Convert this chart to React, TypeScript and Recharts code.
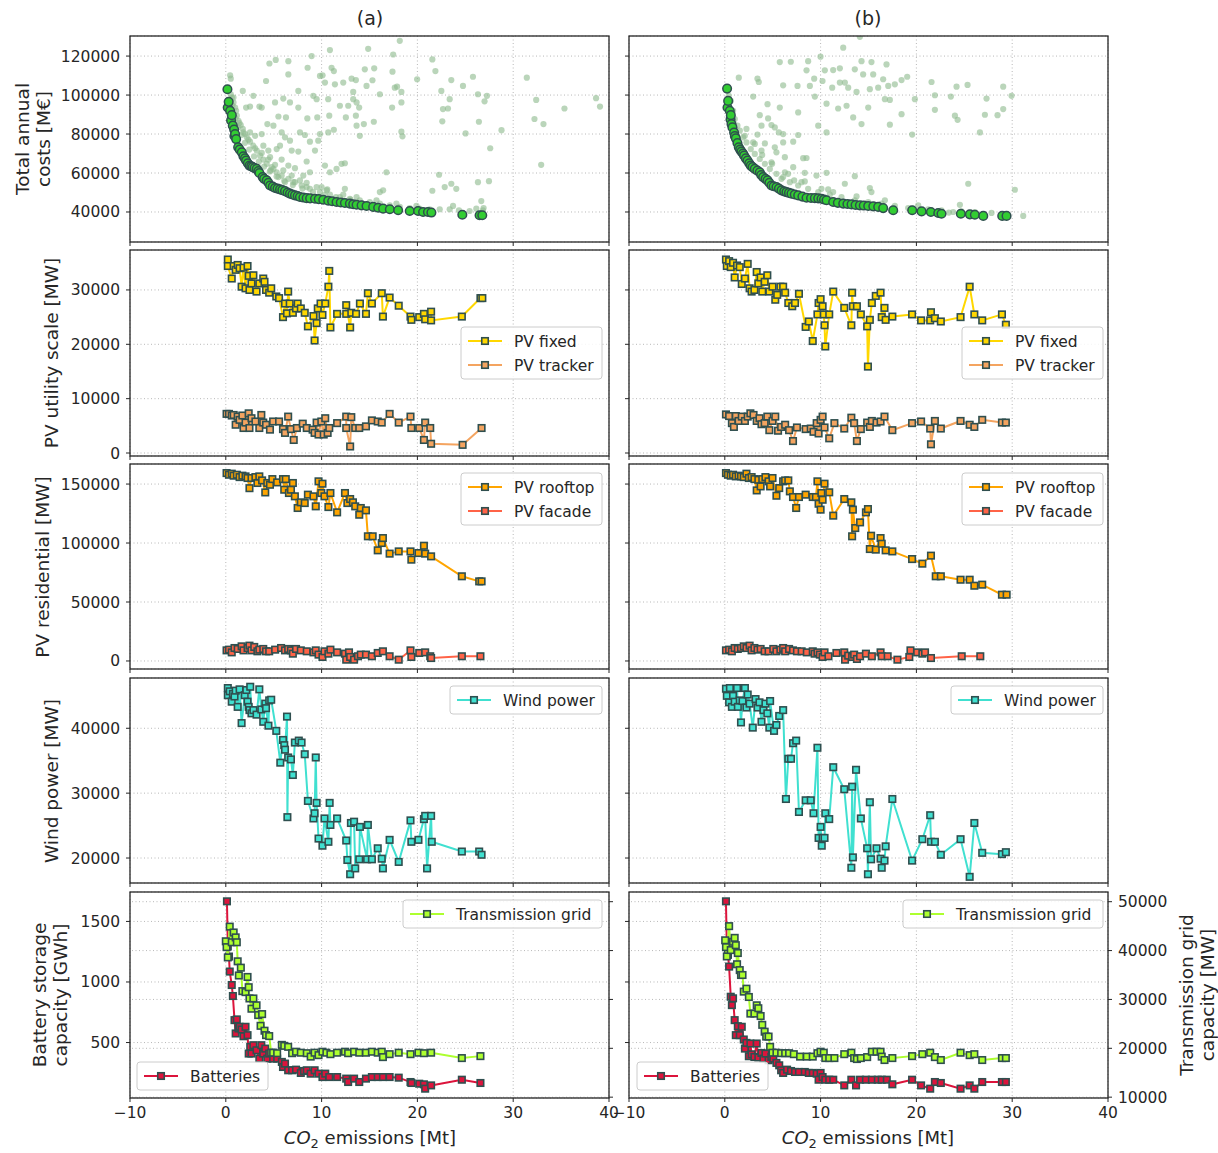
import React from 'react'
import { ScatterChart, Scatter, XAxis, YAxis, CartesianGrid, ReferenceLine } from 'recharts'

type P = [number, number]

// ---------- data ----------
const xTicks = [-10, 0, 10, 20, 30, 40]

// Row 1: total annual costs [M€]
const cloudA: P[] = [
  [0.45, 110100], [0.52, 108400], [18.16, 127800], [14.86, 123700], [17.47, 120800], [10.87, 123100], [8.96, 120000],
  [21.56, 118300], [5.21, 118000], [4.55, 116200], [6.53, 117400], [8.54, 114000], [11.04, 114000], [11.28, 112300],
  [14.51, 113200], [15.49, 113700], [17.4, 112000], [6.53, 110600], [9.83, 109800], [10.1, 110100], [13.13, 108400],
  [13.58, 107700], [15.31, 107600], [19.97, 108100], [21.88, 112300], [23.54, 107700], [25.8, 109400], [31.42, 108900],
  [4.2, 107200], [7.57, 102100], [10.35, 106400], [11.39, 105500], [12.26, 106400], [13.3, 101600], [14.69, 104700],
  [16.08, 100400], [17.64, 103800], [17.88, 104300], [18.33, 101600], [22.5, 102100], [24.76, 104700], [26.32, 100400],
  [27.26, 99600], [1.77, 102100], [2.88, 99600], [6.0, 98200], [5.14, 96200], [6.7, 96200], [9.13, 99600], [9.48, 97900],
  [10.69, 97900], [11.91, 94500], [12.78, 94500], [13.3, 97900], [13.65, 96200], [13.92, 93600], [17.36, 93600],
  [18.33, 96200], [23.37, 97900], [22.67, 92800], [23.19, 93100], [27.01, 96800], [32.4, 97500], [35.35, 93100],
  [38.65, 98400], [39.06, 94100], [2.12, 93600], [2.53, 94100], [3.51, 94100], [3.75, 93600], [5.49, 89000], [6.28, 88500],
  [7.57, 93600], [8.51, 88000], [9.55, 88500], [10.8, 89400], [12.53, 88500], [13.58, 89400], [14.41, 85100], [15.45, 86300],
  [13.65, 84300], [13.99, 79100], [22.6, 86500], [26.42, 86300], [32.22, 87700], [33.16, 85100], [4.34, 85100], [4.97, 84300],
  [5.83, 80800], [7.74, 80800], [8.26, 79500], [9.83, 80000], [10.69, 80800], [11.28, 82200], [18.33, 81200], [18.44, 78800],
  [25.03, 80300], [28.78, 82000], [2.53, 80800], [3.06, 79100], [3.75, 80000], [6.18, 78300], [6.7, 76600], [8.78, 76100],
  [9.65, 76600], [3.92, 74000], [4.44, 71500], [5.31, 72300], [5.66, 74000], [6.88, 71500], [7.57, 71000], [9.31, 71500],
  [27.6, 72700], [4.62, 68100], [5.83, 66900], [8.44, 65900], [10.35, 63800], [10.87, 60400], [11.56, 62100], [12.08, 64700],
  [12.43, 65000], [6.53, 63800], [7.22, 62500], [32.92, 64200], [4.69, 61300], [4.97, 62100], [8.09, 58700], [8.78, 60400],
  [16.77, 60400], [22.26, 59100], [23.54, 54500], [26.32, 55300], [27.47, 55800], [5.49, 57900], [6.18, 55300], [7.05, 55300],
  [7.74, 56200], [8.44, 52800], [10.0, 52800], [10.59, 51600], [12.43, 51900], [16.08, 50200], [16.42, 51100], [21.56, 50900],
  [22.85, 52800], [24.06, 51900], [26.67, 45600], [23.72, 43100], [26.84, 40900], [26.15, 41700],
  [0.52, 100400], [0.63, 98700], [0.8, 96200], [0.97, 93600], [1.15, 89400], [1.32, 86800], [1.56, 84600], [1.77, 82600],
  [2.01, 80000], [2.19, 78300], [2.53, 76100], [2.88, 74000], [3.23, 71500], [3.58, 68900], [3.92, 66900], [4.27, 64700],
  [4.79, 63000], [5.31, 60400], [5.83, 58700], [6.53, 57000], [7.22, 55300], [7.92, 53600], [8.78, 51900], [9.83, 50200],
  [10.87, 48900], [11.91, 47700], [12.95, 46800], [13.99, 46000], [15.03, 45100], [16.08, 44300], [17.12, 43400],
  [18.16, 42600], [19.2, 42000], [20.24, 41700], [21.28, 41400], [22.33, 41400], [23.37, 41400], [24.34, 40900],
  [25.45, 40500], [26.91, 42000], [0.8, 98700], [1.08, 91900], [1.42, 85600], [1.84, 80800], [2.36, 77100], [3.06, 72700],
  [3.75, 70300], [4.44, 66900], [5.14, 64200], [6.0, 61300], [6.88, 58700], [8.44, 55000], [9.48, 52800], [10.52, 51100],
  [12.26, 48900], [13.65, 47700], [15.73, 46000], [17.81, 44300], [19.9, 43100],
  [0.7, 94500], [1.0, 88000], [1.25, 83500], [1.6, 79500], [2.0, 75500], [2.45, 72000], [2.95, 68500], [3.45, 65800],
  [4.0, 63300], [4.6, 60800], [5.3, 58200], [6.1, 56000], [7.0, 53800], [8.0, 52000], [9.1, 50300], [10.3, 48800],
  [11.5, 47600], [13.0, 46300],
]
const frontA: P[] = [
  [0.17, 103000], [0.2, 93600], [0.3, 96500], [0.45, 91900], [0.55, 87000], [0.63, 89700], [0.73, 84300], [0.87, 82300],
  [0.9, 79000], [0.97, 80000], [1.08, 77400], [1.29, 73200], [1.45, 72000], [1.67, 70600], [1.84, 68600], [2.0, 67500],
  [2.12, 66400], [2.3, 65000], [2.47, 63800], [2.65, 63500], [2.81, 63000], [3.0, 62500], [3.23, 62100], [3.4, 61000],
  [3.51, 60000], [3.85, 57900], [4.0, 57000], [4.27, 56200], [4.45, 55000], [4.62, 53600], [4.9, 53000], [5.14, 52300],
  [5.4, 52000], [5.66, 51600], [5.9, 51200], [6.18, 50700], [6.45, 50000], [6.7, 49400], [6.95, 49000], [7.22, 48500],
  [7.5, 48200], [7.74, 47700], [8.1, 47400], [8.44, 47100], [8.8, 47000], [9.31, 46800], [9.7, 46600], [10.17, 46300],
  [10.69, 45800], [11.1, 45500], [11.56, 45100], [12.0, 44900], [12.43, 44600], [12.95, 44300], [13.3, 44000],
  [13.65, 43700], [14.17, 43400], [14.69, 43100], [15.38, 42600], [15.9, 42200], [16.42, 41700], [17.12, 41400],
  [17.99, 40900], [19.2, 40500], [20.07, 40500], [20.59, 40000], [21.1, 40000], [21.46, 39700], [24.69, 38600],
  [26.49, 38300], [26.77, 38300],
]
const cloudB: P[] = [
  [14.1, 129900], [12.36, 124300], [5.74, 116900], [6.89, 117100], [8.7, 117400], [9.99, 119700], [14.27, 117400],
  [15.31, 116900], [16.88, 115700], [8.53, 112700], [10.44, 112700], [11.31, 112800], [12.01, 113700], [13.57, 113200],
  [14.44, 110600], [15.49, 110600], [16.53, 108100], [18.45, 107700], [19.04, 109400], [1.46, 108900], [3.41, 108400],
  [3.55, 106700], [6.09, 105000], [7.59, 104700], [8.88, 104700], [9.33, 108400], [10.2, 107200], [11.21, 103800],
  [12.01, 106400], [12.53, 106400], [12.88, 103800], [13.75, 101600], [15.14, 103000], [16.01, 103800], [17.06, 104700],
  [17.75, 105500], [21.58, 106700], [24.19, 104300], [25.34, 105200], [29.06, 104300], [29.93, 99600], [2.96, 99200],
  [4.46, 95300], [5.74, 93600], [7.66, 91100], [9.4, 99200], [10.62, 95600], [11.83, 93100], [12.71, 94500], [13.4, 88500],
  [14.27, 85100], [14.97, 93600], [16.71, 97900], [17.23, 97500], [18.45, 90200], [19.84, 97900], [21.93, 99900],
  [21.93, 92400], [23.6, 99200], [24.02, 89400], [24.3, 87300], [27.15, 89900], [28.47, 89700], [29.06, 92800],
  [27.32, 98200], [26.63, 80800], [19.56, 79700], [17.23, 84800], [3.65, 89700], [4.52, 88000], [4.87, 84600],
  [3.83, 84300], [2.26, 82600], [3.41, 79700], [5.22, 83400], [5.64, 80800], [6.09, 80000], [7.66, 79500], [9.75, 84300],
  [10.62, 80800], [3.13, 74900], [4.18, 75200], [5.22, 73200], [6.09, 75700], [7.14, 76100], [3.9, 69300], [5.39, 70600],
  [6.27, 68100], [8.18, 67600], [8.53, 67700], [4.94, 64700], [7.14, 63000], [8.35, 60100], [6.61, 59600], [5.92, 57000],
  [7.24, 56200], [8.35, 55700], [9.57, 58700], [10.62, 60100], [13.57, 58400], [12.53, 54500], [15.14, 52300],
  [15.31, 50200], [10.79, 51600], [11.31, 50200], [13.75, 48000], [16.71, 46000], [25.41, 54500], [30.28, 51400],
  [31.15, 38000], [24.54, 43700], [20.19, 43400], [19.56, 41700], [23.84, 40000], [23.39, 39700],
  [0.42, 99600], [0.63, 97000], [0.87, 91900], [1.04, 87700], [1.32, 84300], [1.57, 81700], [1.91, 78300], [2.26, 75700],
  [2.71, 72300], [3.13, 69800], [3.65, 67200], [4.18, 64700], [4.7, 62100], [5.39, 59600], [6.09, 57900], [6.79, 55300],
  [7.66, 53600], [8.7, 51900], [9.75, 50200], [10.96, 48900], [12.18, 47700], [13.57, 46000], [14.97, 45100],
  [16.36, 44300], [17.75, 43100], [19.14, 42000], [21.23, 41400], [22.62, 40900], [24.71, 40300], [26.1, 40000],
  [27.84, 39500], [2.09, 79100], [2.96, 75700], [3.83, 71500], [4.87, 65500], [6.27, 60400], [8.0, 55300], [10.09, 51900],
]
const frontB: P[] = [
  [0.24, 103300], [0.28, 93600], [0.35, 97000], [0.52, 91900], [0.6, 87500], [0.63, 89700], [0.7, 85100], [0.8, 83400],
  [0.97, 80800], [1.05, 79000], [1.15, 77800], [1.32, 75400], [1.46, 73200], [1.6, 72000], [1.74, 71000], [1.9, 70000],
  [2.02, 68900], [2.2, 67500], [2.37, 66400], [2.55, 65000], [2.71, 63800], [2.9, 63000], [3.13, 62100], [3.4, 61200],
  [3.65, 60400], [3.8, 59000], [4.0, 57900], [4.25, 57000], [4.46, 56200], [4.65, 55000], [4.87, 53600], [5.1, 53200],
  [5.39, 52800], [5.65, 52000], [5.92, 51100], [6.2, 50600], [6.44, 50200], [6.7, 49800], [6.96, 49400], [7.3, 49000],
  [7.66, 48500], [8.1, 47900], [8.53, 47300], [9.0, 47200], [9.4, 47100], [9.75, 47000], [10.09, 46800], [10.35, 46400],
  [10.62, 46000], [11.31, 45100], [11.8, 44700], [12.36, 44300], [12.8, 44100], [13.23, 43900], [13.65, 43600],
  [14.1, 43400], [14.5, 43300], [14.97, 43100], [15.5, 42900], [16.01, 42600], [16.53, 42000], [17.58, 40900],
  [19.56, 40900], [20.54, 40300], [21.51, 40000], [22.28, 39500], [22.62, 39100], [24.64, 39100], [25.58, 38800],
  [26.1, 38600], [26.98, 38000], [28.96, 38000], [29.41, 38000],
]

// Row 2: PV utility scale [MW]
const fixedA: P[] = [
  [0.21, 35600], [0.21, 34400], [0.62, 32100], [0.82, 34400], [1.03, 33700], [1.24, 34600], [1.44, 34000], [1.65, 30600],
  [1.85, 34100], [2.06, 30300], [2.27, 34400], [2.39, 32600], [2.47, 30000], [2.68, 31200], [2.88, 32700], [3.21, 29700],
  [3.5, 31200], [3.91, 32100], [4.04, 31500], [4.2, 30000], [4.53, 29500], [4.74, 30300], [5.27, 28800], [5.56, 28500],
  [5.97, 25000], [6.18, 27500], [6.39, 25700], [6.51, 29700], [6.67, 27500], [7.0, 25800], [7.33, 26600], [7.5, 27500],
  [7.83, 26600], [8.24, 25800], [8.57, 23300], [9.15, 25200], [9.27, 20700], [9.48, 23900], [9.6, 26600], [9.89, 27500],
  [10.09, 25400], [10.38, 27500], [10.71, 30600], [10.8, 33500], [10.92, 23100], [11.62, 25600], [12.57, 25600],
  [12.57, 27200], [12.98, 23100], [13.1, 25800], [13.6, 25600], [14.0, 27500], [14.63, 25600], [14.83, 29400],
  [15.25, 27500], [16.28, 29400], [16.4, 25100], [17.1, 28600], [18.05, 27100], [19.28, 25100], [19.37, 24500],
  [20.19, 25000], [20.68, 25600], [20.81, 24600], [21.43, 26000], [21.43, 24400], [24.64, 25100], [26.58, 28500],
  [26.78, 28500],
]
const trackerA: P[] = [
  [0.08, 7200], [0.33, 7200], [0.62, 6900], [0.82, 7000], [1.03, 5200], [1.24, 6700], [1.44, 6100], [1.73, 6900],
  [1.85, 4600], [2.06, 5600], [2.39, 7300], [2.47, 4600], [2.68, 6400], [3.09, 5800], [3.5, 4600], [3.71, 7000],
  [3.91, 5600], [4.2, 5200], [4.61, 4300], [4.94, 5800], [5.56, 5800], [5.97, 4400], [6.18, 3700], [6.51, 6700],
  [6.8, 4400], [7.09, 2400], [7.42, 4600], [8.03, 5400], [8.45, 4600], [9.06, 4300], [9.27, 3700], [9.48, 5600],
  [9.68, 3400], [9.97, 5800], [10.22, 3400], [10.38, 6400], [10.63, 3700], [10.8, 4600], [11.62, 5500], [12.57, 6700],
  [12.57, 4600], [12.98, 1200], [13.1, 6600], [13.51, 4600], [13.93, 4600], [14.63, 4900], [15.25, 6000], [15.86, 5800],
  [16.28, 5600], [17.1, 7200], [18.05, 5600], [19.28, 6700], [19.37, 4600], [20.19, 4600], [20.68, 2400], [20.81, 5600],
  [21.34, 4600], [21.43, 1700], [24.72, 1500], [26.7, 4600],
]
const fixedB: P[] = [
  [0.12, 35600], [0.21, 34400], [0.45, 35300], [0.62, 34200], [0.86, 35000], [1.03, 32300], [1.28, 34500], [1.56, 34200],
  [1.77, 31100], [2.1, 32100], [2.39, 34800], [2.59, 30300], [2.8, 29700], [3.09, 30000], [3.33, 33300], [3.5, 31200],
  [3.74, 32300], [3.91, 29700], [4.16, 31500], [4.44, 32700], [4.65, 29700], [4.98, 30600], [5.27, 28200], [5.47, 29100],
  [5.8, 30600], [6.09, 30600], [6.3, 29500], [6.63, 27600], [7.04, 27000], [7.33, 27600], [7.74, 29300], [8.44, 23200],
  [8.77, 24200], [9.18, 20600], [9.67, 25500], [9.79, 27600], [10.0, 28300], [10.21, 27000], [10.33, 25500],
  [10.41, 23500], [10.49, 19600], [10.9, 25500], [11.32, 29700], [12.47, 26700], [13.21, 23500], [13.29, 29500],
  [13.37, 27000], [13.79, 27000], [14.2, 25500], [14.86, 23300], [14.94, 15900], [15.14, 24500], [15.35, 27600],
  [15.76, 28900], [16.26, 29500], [16.38, 25000], [16.67, 26700], [16.79, 24500], [17.49, 25100], [19.55, 25500],
  [20.49, 24400], [21.44, 24400], [21.52, 25900], [21.93, 24800], [22.55, 24200], [24.61, 25000], [25.56, 30600],
  [26.05, 25500], [26.87, 24400], [28.93, 25500], [29.34, 23600],
]
const trackerB: P[] = [
  [0.12, 7100], [0.45, 6800], [0.74, 5500], [0.95, 4800], [1.15, 6800], [1.44, 5900], [1.77, 6700], [2.1, 5900],
  [2.39, 6700], [2.67, 7300], [3.0, 7000], [3.33, 5900], [3.62, 6400], [3.83, 5300], [4.16, 5500], [4.44, 6700],
  [4.65, 4200], [4.98, 5900], [5.27, 6700], [5.56, 4100], [5.88, 4800], [6.3, 5200], [6.71, 4200], [7.12, 2200],
  [7.53, 4700], [8.44, 4400], [8.97, 4500], [9.26, 3900], [9.59, 5500], [9.79, 3600], [10.0, 6100], [10.21, 6700],
  [10.41, 4700], [10.9, 2700], [11.44, 5500], [12.47, 4500], [13.21, 6500], [13.5, 5500], [13.79, 2200], [14.2, 4400],
  [14.86, 5600], [15.14, 4800], [15.35, 5900], [15.84, 5600], [16.26, 5800], [16.67, 6700], [17.49, 4200], [19.55, 5500],
  [20.49, 5800], [21.44, 4500], [21.52, 1600], [21.93, 5900], [22.55, 4500], [24.61, 5900], [25.56, 5200], [26.05, 4800],
  [26.87, 6100], [28.93, 5600], [29.34, 5600],
]

// Row 3: PV residential [MW]
const roofA: P[] = [
  [0.08, 159300], [0.33, 157900], [0.62, 158800], [0.82, 157100], [1.15, 157900], [1.44, 155900], [1.73, 157100],
  [2.06, 156500], [2.27, 155100], [2.47, 146500], [2.68, 155100], [3.09, 155900], [3.3, 150900], [3.5, 156500],
  [3.79, 153100], [4.12, 142900], [4.33, 150900], [4.61, 149400], [4.86, 154200], [5.36, 151400], [5.97, 154200],
  [6.1, 145200], [6.26, 154200], [6.59, 142400], [6.8, 145200], [7.0, 150900], [7.21, 139600], [7.5, 129700],
  [7.83, 134500], [8.24, 133900], [8.57, 141000], [9.15, 139600], [9.39, 131100], [9.68, 152300], [9.97, 142400],
  [10.09, 150300], [10.3, 139600], [10.71, 130500], [10.92, 142400], [11.62, 126000], [12.44, 142400], [12.69, 133900],
  [12.98, 137300], [13.27, 134500], [13.51, 131100], [13.93, 124000], [14.09, 129700], [14.63, 127700], [14.83, 105700],
  [15.33, 105700], [15.86, 93800], [16.28, 100000], [16.4, 104200], [17.1, 91000], [18.05, 92900], [19.28, 92900],
  [19.37, 85900], [20.11, 91500], [20.68, 97700], [20.81, 91000], [21.43, 88700], [24.64, 71800], [26.45, 67500],
  [26.7, 67500],
]
const facadeA: P[] = [
  [0.08, 9000], [0.33, 9600], [0.62, 7300], [0.91, 11000], [1.24, 10200], [1.65, 12400], [1.85, 9000], [2.27, 11000],
  [2.47, 13000], [2.68, 9000], [2.97, 11900], [3.3, 8200], [3.5, 9600], [3.91, 10200], [4.2, 8200], [4.53, 8200],
  [5.15, 9600], [5.77, 11000], [6.18, 9000], [6.51, 10200], [6.8, 9000], [7.0, 6200], [7.33, 10200], [7.83, 9000],
  [8.45, 8200], [9.15, 7300], [9.39, 9000], [9.68, 5400], [10.09, 3400], [10.3, 8200], [10.71, 6200], [10.92, 9600],
  [11.62, 7300], [12.44, 6200], [12.57, 1100], [12.86, 7300], [12.98, 3400], [13.39, 1100], [13.8, 4000], [14.09, 5400],
  [14.63, 5400], [15.25, 4000], [15.86, 6800], [16.4, 8200], [17.1, 4000], [18.05, 1100], [19.28, 9000], [19.37, 3400],
  [20.19, 6800], [20.81, 7300], [21.34, 4000], [21.43, 2500], [24.64, 4000], [26.58, 4000],
]
const roofB: P[] = [
  [0.12, 159300], [0.33, 157900], [0.62, 157100], [0.86, 157900], [1.15, 156500], [1.44, 157100], [1.69, 156500],
  [1.98, 155900], [2.26, 158800], [2.51, 155100], [2.8, 155900], [3.09, 154200], [3.33, 144600], [3.5, 153600],
  [3.74, 148000], [3.91, 154200], [4.24, 155900], [4.57, 152300], [4.73, 148000], [4.98, 155100], [5.39, 140100],
  [5.68, 146600], [6.09, 152300], [6.3, 153100], [6.63, 153100], [6.79, 143800], [7.12, 139000], [7.45, 129700],
  [7.74, 139000], [8.44, 141000], [9.18, 139000], [9.51, 139000], [9.67, 152300], [9.79, 133300], [10.0, 128300],
  [10.08, 142400], [10.21, 136700], [10.41, 150300], [10.9, 143000], [11.32, 123200], [12.47, 137300], [13.21, 134500],
  [13.29, 105700], [13.37, 128300], [13.62, 112700], [14.12, 117500], [14.73, 126000], [14.94, 128800], [15.14, 94900],
  [15.27, 106200], [15.76, 94400], [16.26, 104200], [16.38, 99400], [16.79, 93800], [17.49, 92900], [19.55, 86400],
  [20.62, 82500], [21.52, 89300], [22.02, 71800], [22.55, 71800], [24.61, 68900], [25.56, 68900], [26.05, 63800],
  [26.87, 64700], [28.93, 56200], [29.42, 56200],
]
const facadeB: P[] = [
  [0.12, 9000], [0.45, 9600], [0.74, 8200], [1.03, 11000], [1.36, 10200], [1.69, 11000], [1.98, 12400], [2.26, 11000],
  [2.59, 13000], [2.8, 9000], [3.09, 11000], [3.42, 9600], [3.74, 10200], [4.16, 8200], [4.57, 8200], [5.06, 10200],
  [5.39, 8200], [5.8, 9600], [6.09, 11000], [6.3, 8200], [6.71, 10200], [7.12, 9000], [7.53, 8200], [8.02, 8200],
  [8.56, 7300], [9.18, 8200], [9.38, 6200], [9.67, 7300], [9.92, 5400], [10.21, 3400], [10.41, 7300], [10.82, 4000],
  [11.65, 6800], [12.47, 7300], [12.55, 1100], [12.88, 4500], [13.29, 3400], [13.5, 5400], [13.79, 1700], [14.12, 4000],
  [14.73, 6200], [15.35, 4000], [16.26, 7300], [16.38, 4000], [17.0, 4000], [18.02, 1100], [19.26, 3400], [19.38, 9000],
  [20.08, 7300], [20.62, 6200], [20.9, 7300], [21.52, 2500], [24.73, 4000], [26.67, 4000],
]

// Row 4: wind power [MW]
const windA: P[] = [
  [0.21, 46200], [0.21, 45100], [0.41, 45700], [0.62, 44100], [0.74, 45300], [0.91, 44900], [1.03, 45800], [1.24, 43300],
  [1.44, 46000], [1.65, 40800], [1.98, 45100], [2.14, 45900], [2.27, 44100], [2.39, 43300], [2.47, 42800], [2.55, 46400],
  [2.68, 42300], [2.88, 42800], [3.21, 42100], [3.5, 46000], [3.71, 42900], [3.91, 41000], [4.12, 43800], [4.2, 43100],
  [4.45, 40400], [4.53, 44300], [4.74, 44400], [5.27, 39600], [5.69, 34700], [5.97, 38200], [6.1, 37400], [6.18, 36700],
  [6.39, 41800], [6.43, 26300], [6.51, 35500], [6.8, 35200], [7.0, 32800], [7.21, 37800], [7.62, 38100], [7.91, 37800],
  [8.24, 36000], [8.57, 28800], [9.15, 26100], [9.27, 26900], [9.39, 35500], [9.48, 28500], [9.68, 23000], [10.09, 21900],
  [10.3, 26100], [10.71, 22500], [10.84, 28500], [10.92, 25100], [11.62, 26100], [12.57, 22700], [12.69, 19700],
  [12.98, 17500], [13.06, 25400], [13.39, 25600], [13.51, 18400], [13.93, 19800], [14.0, 24800], [14.75, 19800],
  [14.83, 25100], [15.25, 19800], [15.86, 21500], [16.28, 19900], [16.4, 18400], [17.1, 22800], [18.05, 19400],
  [19.28, 25800], [19.37, 22500], [20.11, 22800], [20.68, 26000], [20.81, 26500], [21.01, 18400], [21.43, 26500],
  [21.5, 22500], [24.64, 21000], [26.45, 21000], [26.7, 20500],
]
const windB: P[] = [
  [0.12, 46100], [0.21, 45000], [0.45, 44000], [0.53, 46200], [0.74, 43300], [0.86, 45000], [1.03, 44100], [1.28, 46200],
  [1.36, 43300], [1.56, 44300], [1.69, 40900], [1.85, 44200], [2.1, 46200], [2.26, 43200], [2.39, 45200], [2.59, 43800],
  [2.92, 40100], [3.21, 44500], [3.42, 43200], [3.62, 44000], [3.83, 41000], [4.03, 42800], [4.24, 43800], [4.44, 42300],
  [4.65, 40100], [4.73, 44200], [5.14, 39600], [5.39, 40500], [5.68, 41900], [6.09, 42800], [6.38, 29100], [6.63, 35300],
  [6.91, 35300], [7.12, 37700], [7.45, 38100], [7.74, 27100], [8.44, 28900], [8.97, 28900], [9.26, 26900], [9.67, 37000],
  [9.79, 23100], [10.0, 24800], [10.12, 21900], [10.21, 23100], [10.41, 23100], [10.49, 26900], [10.9, 26000],
  [11.32, 34000], [12.47, 30600], [13.21, 18500], [13.29, 31000], [13.37, 20100], [13.7, 33600], [14.2, 26100],
  [14.86, 21500], [14.94, 17500], [15.14, 28600], [15.27, 19800], [15.84, 21500], [16.26, 19900], [16.38, 18500],
  [16.67, 19600], [16.79, 21800], [17.49, 29100], [19.55, 19600], [20.62, 22900], [21.44, 26600], [21.52, 22500],
  [21.93, 22500], [22.55, 20500], [24.61, 22900], [25.56, 17100], [26.05, 25400], [26.87, 20800], [28.93, 20600],
  [29.34, 20900],
]

// Row 5: battery storage [GWh] (left) and transmission grid [MW] (right)
const batA: P[] = [
  [0.12, 1666], [0.21, 1293], [0.33, 1210], [0.41, 1086], [0.62, 975], [0.74, 884], [0.91, 685], [1.03, 575], [1.15, 691],
  [1.32, 616], [1.44, 630], [1.65, 608], [1.85, 552], [2.06, 630], [2.27, 561], [2.39, 409], [2.55, 464], [2.68, 409],
  [2.88, 478], [3.21, 436], [3.5, 367], [3.71, 478], [3.91, 409], [4.12, 450], [4.33, 367], [4.53, 409], [4.94, 367],
  [5.36, 367], [5.85, 340], [5.97, 298], [6.18, 326], [6.51, 271], [6.92, 271], [7.33, 276], [7.83, 249], [8.16, 265],
  [8.45, 271], [8.86, 243], [9.27, 271], [9.68, 243], [10.09, 215], [10.38, 243], [10.8, 215], [11.62, 215], [12.57, 202],
  [12.77, 174], [13.39, 202], [13.93, 174], [14.63, 202], [15.25, 215], [15.86, 215], [16.4, 215], [17.1, 215],
  [18.05, 210], [19.28, 174], [19.37, 166], [20.19, 160], [20.68, 155], [20.81, 119], [21.43, 146], [24.64, 193],
  [26.58, 166],
]
const gridA: P[] = [
  [0.0, 41900], [0.08, 40700], [0.21, 38600], [0.41, 44900], [0.62, 41700], [0.82, 43700], [1.03, 42700], [1.15, 41700],
  [1.24, 37800], [1.36, 34900], [1.57, 36500], [1.73, 31700], [2.06, 31500], [2.27, 34600], [2.39, 32500], [2.47, 30200],
  [2.68, 28100], [2.88, 30200], [3.21, 28800], [3.38, 26800], [3.63, 24600], [3.79, 27000], [4.04, 23600], [4.2, 22700],
  [4.53, 22500], [4.74, 19100], [4.94, 19100], [5.36, 19000], [5.85, 20700], [6.1, 20500], [6.51, 20300], [6.92, 19000],
  [7.33, 19300], [7.83, 19100], [8.45, 19000], [8.86, 18300], [9.27, 19100], [9.68, 18600], [10.09, 19300], [10.5, 19100],
  [10.92, 18800], [11.62, 19100], [12.44, 19300], [12.77, 19000], [13.39, 19300], [13.93, 19100], [14.63, 19100],
  [15.25, 19300], [15.86, 19100], [16.28, 19300], [16.4, 18200], [17.1, 18800], [18.05, 19100], [19.28, 18800],
  [20.11, 19100], [20.68, 19000], [21.43, 19100], [24.64, 18000], [26.58, 18400],
]
const batB: P[] = [
  [0.12, 1666], [0.21, 1293], [0.33, 1224], [0.45, 1127], [0.62, 878], [0.74, 809], [0.86, 865], [1.03, 685], [1.15, 561],
  [1.36, 635], [1.56, 561], [1.77, 630], [1.98, 525], [2.1, 450], [2.26, 497], [2.51, 387], [2.67, 492], [2.8, 403],
  [3.09, 381], [3.33, 492], [3.5, 376], [3.83, 414], [4.03, 367], [4.24, 409], [4.57, 354], [4.86, 381], [5.06, 367],
  [5.39, 332], [5.68, 312], [5.88, 271], [6.09, 249], [6.5, 276], [6.91, 265], [7.33, 257], [7.74, 257], [8.35, 257],
  [8.77, 249], [9.18, 249], [9.59, 243], [9.79, 193], [10.0, 249], [10.21, 215], [10.49, 193], [10.9, 193], [11.32, 193],
  [12.47, 146], [13.21, 193], [13.7, 146], [14.12, 193], [14.73, 193], [15.35, 193], [15.97, 193], [16.38, 193],
  [16.91, 193], [17.49, 155], [19.55, 193], [20.49, 146], [21.44, 119], [21.93, 174], [22.55, 166], [24.61, 119],
  [25.56, 146], [26.05, 119], [26.87, 174], [28.93, 174], [29.34, 174],
]
const gridB: P[] = [
  [0.04, 42100], [0.12, 40700], [0.21, 38800], [0.45, 45000], [0.62, 40100], [0.86, 41800], [1.03, 42600], [1.15, 41100],
  [1.28, 37200], [1.36, 39500], [1.56, 36000], [1.69, 35000], [1.85, 35000], [1.98, 31600], [2.26, 32200], [2.51, 30500],
  [2.67, 27100], [3.09, 27100], [3.33, 28800], [3.5, 28200], [3.74, 26600], [3.91, 24800], [4.16, 23400], [4.32, 22400],
  [4.57, 22400], [4.73, 20300], [4.98, 19100], [5.39, 19100], [5.88, 19000], [6.3, 19000], [6.71, 19000], [7.2, 18800],
  [7.86, 18300], [8.56, 18300], [9.18, 18300], [9.67, 19000], [10.0, 19300], [10.33, 19100], [10.49, 18000], [10.9, 18000],
  [11.44, 18000], [12.47, 18800], [13.21, 19100], [13.5, 18000], [13.79, 17800], [14.2, 18000], [14.86, 18200],
  [15.35, 19300], [15.84, 19300], [16.26, 19300], [16.38, 18300], [16.67, 17600], [17.49, 18000], [19.55, 18400],
  [20.62, 18800], [21.44, 19100], [21.93, 18200], [22.55, 17600], [24.61, 19100], [25.56, 18600], [26.05, 18800],
  [26.87, 17600], [28.93, 18000], [29.34, 18000],
]

const costTicks = [40000, 60000, 80000, 100000, 120000]
const utilTicks = [0, 10000, 20000, 30000]
const resTicks = [0, 50000, 100000, 150000]
const windTicks = [20000, 30000, 40000]
const batTicks = [500, 1000, 1500]
const gridTicks = [10000, 20000, 30000, 40000, 50000]

// ---------- layout ----------
const FONT = "'DejaVu Sans', sans-serif"
const TXT = '#262626'
const EDGE = '#2f4f4f'
const COL_LEFT = [130, 629]
const PLOT_W = 479
const ROW_TOP = [36, 250, 464, 678, 892]
const ROW_H = [206, 206, 205, 205, 206]

const toPts = (d: P[]) => d.map(([x, y]) => ({ x, y }))
const sorted = (d: P[]) => toPts([...d].sort((a, b) => a[0] - b[0]))
const fmt = (v: number) => (v < 0 ? `\u2212${-v}` : `${v}`)
const blank = () => ''

const square = (color: string) => (p: any) => (
  <rect x={p.cx - 3.25} y={p.cy - 3.25} width={6.5} height={6.5} fill={color} stroke={EDGE} strokeWidth={1.6} />
)
const cloudDot = (p: any) => <circle cx={p.cx} cy={p.cy} r={3.1} fill="#8fbc8f" fillOpacity={0.62} />
const frontDot = (p: any) => (
  <circle cx={p.cx} cy={p.cy} r={4.3} fill="#32cd32" stroke={EDGE} strokeWidth={1.5} />
)

interface LineSeries {
  data: P[]
  color: string
  right?: boolean
}

interface PanelProps {
  col: number
  row: number
  domain: [number, number]
  ticks: number[]
  lines?: LineSeries[]
  cloud?: P[]
  front?: P[]
  twin?: boolean
}

const tickStyle = { fill: TXT, fontSize: 15.5, fontFamily: FONT }

function Panel({ col, row, domain, ticks, lines = [], cloud, front, twin }: PanelProps) {
  const yW = col === 0 ? 130 : 20
  const rW = twin ? (col === 1 ? 80 : 10) : 10
  const bottom = row === 4
  const xH = bottom ? 40 : 8
  const H = ROW_H[row]
  return (
    <div style={{ position: 'absolute', left: COL_LEFT[col] - yW, top: ROW_TOP[row] - 10 }}>
      <ScatterChart
        width={yW + PLOT_W + rW}
        height={10 + H + xH}
        margin={{ top: 10, right: twin ? 0 : rW, left: 0, bottom: 0 }}
      >
        <CartesianGrid stroke="#b0b0b0" strokeDasharray="1 2.5" strokeWidth={0.9} />
        <XAxis
          type="number"
          dataKey="x"
          domain={[-10, 40]}
          ticks={xTicks}
          interval={0}
          allowDataOverflow
          height={xH}
          axisLine={false}
          tickSize={4}
          tickMargin={5}
          tickLine={{ stroke: TXT }}
          tick={tickStyle}
          tickFormatter={bottom ? fmt : blank}
        />
        <YAxis
          type="number"
          dataKey="y"
          domain={domain}
          ticks={ticks}
          interval={0}
          allowDataOverflow
          width={yW}
          axisLine={false}
          tickSize={4}
          tickMargin={6}
          tickLine={{ stroke: TXT }}
          tick={tickStyle}
          tickFormatter={col === 0 ? fmt : blank}
        />
        {twin && (
          <YAxis
            yAxisId="right"
            orientation="right"
            type="number"
            dataKey="y"
            domain={[9830, 51985]}
            ticks={gridTicks}
            interval={0}
            allowDataOverflow
            width={rW}
            axisLine={false}
            tickSize={4}
            tickMargin={6}
            tickLine={{ stroke: TXT }}
            tick={tickStyle}
            tickFormatter={col === 1 ? fmt : blank}
          />
        )}
        {twin &&
          gridTicks.map((v) => (
            <ReferenceLine
              key={v}
              y={v}
              yAxisId="right"
              stroke="#b0b0b0"
              strokeDasharray="1 2.5"
              strokeWidth={0.9}
            />
          ))}
        {cloud && <Scatter data={toPts(cloud)} shape={cloudDot} isAnimationActive={false} />}
        {front && <Scatter data={toPts(front)} shape={frontDot} isAnimationActive={false} />}
        {lines.map((s, i) => (
          <Scatter
            key={i}
            data={sorted(s.data)}
            yAxisId={s.right ? 'right' : 0}
            line={{ stroke: s.color, strokeWidth: 2 }}
            shape={square(s.color)}
            isAnimationActive={false}
          />
        ))}
      </ScatterChart>
    </div>
  )
}

function Legend({ x, y, w, items }: { x: number; y: number; w: number; items: { label: string; color: string }[] }) {
  const h = items.length * 24 + 4
  return (
    <g>
      <rect x={x} y={y} width={w} height={h} rx={3} fill="#fff" fillOpacity={0.85} stroke="#cccccc" />
      {items.map((it, i) => {
        const cy = y + 14 + i * 24
        return (
          <g key={it.label}>
            <line x1={x + 7} x2={x + 41} y1={cy} y2={cy} stroke={it.color} strokeWidth={2} />
            <rect x={x + 20.75} y={cy - 3.25} width={6.5} height={6.5} fill={it.color} stroke={EDGE} strokeWidth={1.6} />
            <text x={x + 53} y={cy + 5.5} fontSize={15.5} fontFamily={FONT} fill={TXT}>
              {it.label}
            </text>
          </g>
        )
      })}
    </g>
  )
}

const C_FIXED = '#ffd700'
const C_TRACK = '#f4a460'
const C_ROOF = '#ffa500'
const C_FACADE = '#ff6347'
const C_WIND = '#40e0d0'
const C_GRID = '#adff2f'
const C_BAT = '#dc143c'

function YLabel({ x, y, text, size = 18.5 }: { x: number; y: number; text: string; size?: number }) {
  return (
    <text
      x={x}
      y={y}
      transform={`rotate(-90 ${x} ${y})`}
      textAnchor="middle"
      dominantBaseline="central"
      fontSize={size}
      fontFamily={FONT}
      fill={TXT}
    >
      {text}
    </text>
  )
}

export default function App() {
  const panels: PanelProps[] = []
  for (let c = 0; c < 2; c++) {
    panels.push({ col: c, row: 0, domain: [24600, 130300], ticks: costTicks, cloud: c ? cloudB : cloudA, front: c ? frontB : frontA })
    panels.push({
      col: c,
      row: 1,
      domain: [-550, 37350],
      ticks: utilTicks,
      lines: [
        { data: c ? fixedB : fixedA, color: C_FIXED },
        { data: c ? trackerB : trackerA, color: C_TRACK },
      ],
    })
    panels.push({
      col: c,
      row: 2,
      domain: [-6800, 167000],
      ticks: resTicks,
      lines: [
        { data: c ? roofB : roofA, color: C_ROOF },
        { data: c ? facadeB : facadeA, color: C_FACADE },
      ],
    })
    panels.push({ col: c, row: 3, domain: [16150, 47750], ticks: windTicks, lines: [{ data: c ? windB : windA, color: C_WIND }] })
    panels.push({
      col: c,
      row: 4,
      domain: [42, 1743],
      ticks: batTicks,
      twin: true,
      lines: [
        { data: c ? batB : batA, color: C_BAT },
        { data: c ? gridB : gridA, color: C_GRID, right: true },
      ],
    })
  }

  return (
    <div style={{ position: 'absolute', left: 0, top: 0, width: 1218, height: 1153, background: '#fff', overflow: 'hidden' }}>
      {panels.map((p) => (
        <Panel key={`${p.col}-${p.row}`} {...p} />
      ))}
      <svg width={1218} height={1153} style={{ position: 'absolute', left: 0, top: 0, pointerEvents: 'none' }}>
        {COL_LEFT.map((l) =>
          ROW_TOP.map((t, r) => (
            <rect key={`${l}-${t}`} x={l} y={t} width={PLOT_W} height={ROW_H[r]} fill="none" stroke={TXT} strokeWidth={1.3} />
          ))
        )}
        <text x={370} y={25} textAnchor="middle" fontSize={19} fontFamily={FONT} fill={TXT}>(a)</text>
        <text x={868} y={25} textAnchor="middle" fontSize={19} fontFamily={FONT} fill={TXT}>(b)</text>

        <YLabel x={22} y={139} text="Total annual" />
        <YLabel x={43} y={139} text="costs [M€]" />
        <YLabel x={51} y={353} text="PV utility scale [MW]" />
        <YLabel x={42} y={567} text="PV residential [MW]" />
        <YLabel x={51} y={781} text="Wind power [MW]" />
        <YLabel x={39} y={995} text="Battery storage" />
        <YLabel x={60} y={995} text="capacity [GWh]" />
        <YLabel x={1186} y={995} text="Transmission grid" />
        <YLabel x={1207} y={995} text="capacity [MW]" />

        {[370, 868].map((cx) => (
          <text key={cx} x={cx} y={1144} textAnchor="middle" fontSize={18} fontFamily={FONT} fill={TXT}>
            <tspan fontStyle="italic">CO</tspan>
            <tspan fontSize={13} dy={4}>2</tspan>
            <tspan dy={-4}> emissions [Mt]</tspan>
          </text>
        ))}

        <Legend x={461} y={327} w={141} items={[{ label: 'PV fixed', color: C_FIXED }, { label: 'PV tracker', color: C_TRACK }]} />
        <Legend x={962} y={327} w={141} items={[{ label: 'PV fixed', color: C_FIXED }, { label: 'PV tracker', color: C_TRACK }]} />
        <Legend x={461} y={473} w={141} items={[{ label: 'PV rooftop', color: C_ROOF }, { label: 'PV facade', color: C_FACADE }]} />
        <Legend x={962} y={473} w={141} items={[{ label: 'PV rooftop', color: C_ROOF }, { label: 'PV facade', color: C_FACADE }]} />
        <Legend x={450} y={686} w={152} items={[{ label: 'Wind power', color: C_WIND }]} />
        <Legend x={951} y={686} w={152} items={[{ label: 'Wind power', color: C_WIND }]} />
        <Legend x={403} y={900} w={199} items={[{ label: 'Transmission grid', color: C_GRID }]} />
        <Legend x={903} y={900} w={200} items={[{ label: 'Transmission grid', color: C_GRID }]} />
        <Legend x={137} y={1062} w={131} items={[{ label: 'Batteries', color: C_BAT }]} />
        <Legend x={637} y={1062} w={131} items={[{ label: 'Batteries', color: C_BAT }]} />
      </svg>
    </div>
  )
}
